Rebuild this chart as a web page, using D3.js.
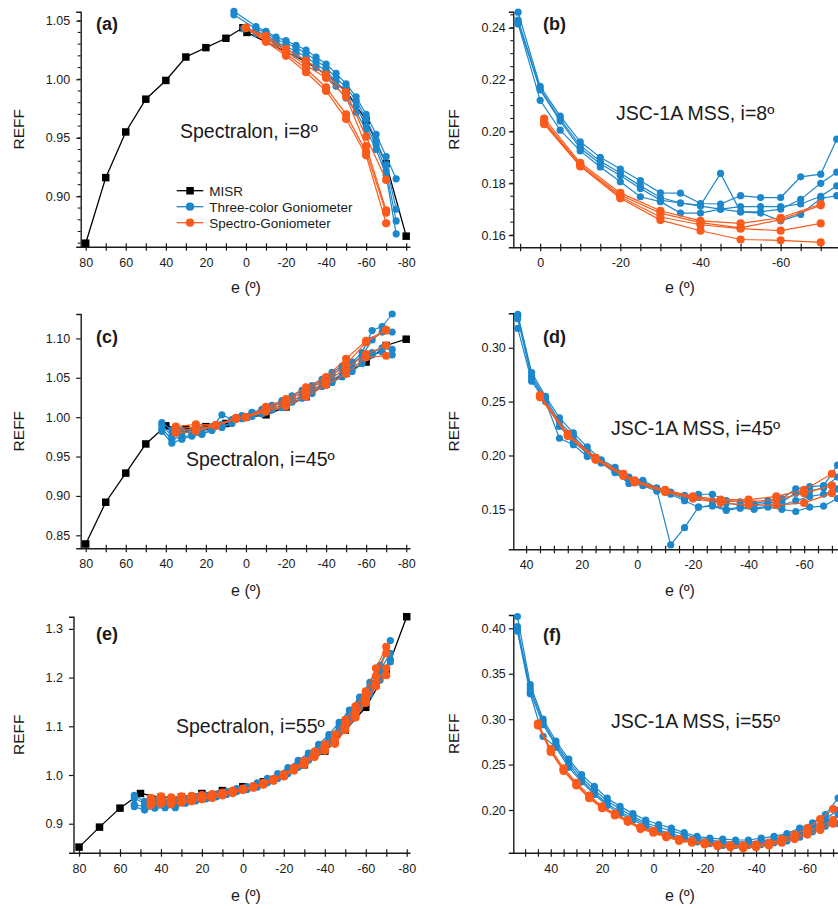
<!DOCTYPE html>
<html><head><meta charset="utf-8">
<script src="https://cdn.jsdelivr.net/npm/d3@7"></script>
<style>
body{margin:0;background:#fff;}
svg{display:block;font-family:"Liberation Sans",Arial,Helvetica,sans-serif;}
</style></head><body>
<svg id="chart" width="838" height="909"></svg>
<script>
// ---------- Panel (a): Spectralon, i=8º ----------
const eMisrA = [80, 70, 60, 50, 40, 30, 20, 10, 1.5, -0.5, -30, -40, -50, -60, -70, -80];
const misrA  = [0.860, 0.916, 0.955, 0.983, 0.999, 1.019, 1.027, 1.035, 1.044, 1.040, 1.015, 1.004, 0.990, 0.965, 0.928, 0.866];
const eBlueA = [6, 1, -5, -10, -15, -20, -25, -30, -35, -40, -45, -50, -55, -60, -65, -70, -75];
const blueA = [
  [1.058, null, 1.045, 1.041, 1.036, 1.033, 1.029, 1.025, 1.019, 1.013, 1.005, 0.996, 0.985, 0.970, 0.953, 0.934, 0.915],
  [1.055, null, 1.043, 1.040, 1.034, 1.031, 1.027, 1.022, 1.016, 1.010, 1.001, 0.993, 0.982, 0.966, 0.948, 0.927, 0.889],
  [null, 1.044, 1.041, 1.038, 1.032, 1.028, 1.024, 1.019, 1.013, 1.007, 0.998, 0.988, 0.977, 0.960, 0.944, 0.922, 0.879],
  [null, 1.043, 1.039, 1.036, 1.030, 1.026, 1.021, 1.016, 1.010, 1.003, 0.994, 0.984, 0.972, 0.957, 0.940, 0.918, 0.868]
];
const eOrangeA = [0, -10, -20, -30, -40, -50, -60, -70];
const orangeA = [
  [1.044, 1.037, 1.026, 1.016, 1.004, 0.989, 0.951, 0.914],
  [1.044, 1.035, 1.024, 1.012, 1.001, 0.985, 0.943, 0.888],
  [1.044, 1.033, 1.022, 1.009, 0.993, 0.970, 0.938, 0.886],
  [1.044, 1.032, 1.020, 1.006, 0.990, 0.966, 0.935, 0.877]
];

// ---------- Panel (b): JSC-1A MSS, i=8º ----------
const eBlueB = [5.5, 0, -5, -10, -15, -20, -25, -30, -35, -40, -45, -50, -55, -60, -65, -70, -74];
const blueB = [
  [0.2460, 0.2174, 0.2059, 0.1960, 0.1900, 0.1855, 0.1810, 0.1763, 0.1762, 0.1722, 0.1720, 0.1752, 0.1745, 0.1745, 0.1825, 0.1835, 0.1970],
  [0.2430, 0.2165, 0.2048, 0.1945, 0.1885, 0.1840, 0.1790, 0.1745, 0.1724, 0.1715, 0.1838, 0.1690, 0.1690, 0.1700, 0.1738, 0.1800, 0.1843],
  [0.2420, 0.2160, 0.2040, 0.1935, 0.1875, 0.1830, 0.1780, 0.1735, 0.1724, 0.1712, 0.1700, 0.1710, 0.1710, 0.1710, 0.1720, 0.1750, 0.1790],
  [0.2415, 0.2120, 0.2005, 0.1925, 0.1863, 0.1806, 0.1748, 0.1729, 0.1685, 0.1685, 0.1700, 0.1690, 0.1685, 0.1655, 0.1680, 0.1742, 0.1752]
];
const eOrangeB = [-1, -10, -20, -30, -40, -50, -60, -70];
const orangeB = [
  [0.2050, 0.1879, 0.1763, 0.1694, 0.1655, 0.1645, 0.1667, 0.1720],
  [0.2040, 0.1872, 0.1755, 0.1685, 0.1648, 0.1628, 0.1660, 0.1715],
  [0.2035, 0.1868, 0.1748, 0.1670, 0.1640, 0.1625, 0.1617, 0.1645],
  [0.2028, 0.1865, 0.1742, 0.1658, 0.1617, 0.1583, 0.1580, 0.1572]
];

// ---------- Panel (c): Spectralon, i=45º ----------
const eMisrC = [80, 70, 60, 50, 40, 30, 20, 10, 0, -10, -20, -30, -40, -50, -60, -70, -80];
const misrC  = [0.839, 0.892, 0.929, 0.966, 0.989, 0.985, 0.988, 0.992, 1.000, 1.003, 1.013, 1.026, 1.042, 1.056, 1.070, 1.091, 1.099];
const eBlueC = [42, 37, 32, 27, 22, 17, 12, 7, 2, -3, -8, -13, -18, -23, -28, -33, -38, -43, -48, -53, -58, -63, -68, -73];
const blueC = [
  [0.993, 0.984, 0.980, 0.981, 0.983, 0.987, 1.003, 0.997, 1.002, 1.006, 1.010, 1.015, 1.021, 1.027, 1.034, 1.040, 1.048, 1.057, 1.065, 1.070, 1.082, 1.110, 1.115, 1.131],
  [0.990, 0.976, 0.983, 0.983, 0.985, 0.988, 0.991, 0.996, 1.001, 1.005, 1.009, 1.013, 1.019, 1.025, 1.031, 1.038, 1.045, 1.054, 1.062, 1.068, 1.078, 1.098, 1.108, 1.108],
  [0.985, 0.972, 0.975, 0.977, 0.979, 0.984, 0.988, 0.993, 0.999, 1.002, 1.006, 1.011, 1.015, 1.021, 1.026, 1.033, 1.041, 1.047, 1.055, 1.062, 1.071, 1.082, 1.088, 1.086],
  [0.982, 0.967, 0.972, 0.976, 0.978, 0.983, 0.987, 0.992, 0.998, 1.001, 1.004, 1.009, 1.012, 1.019, 1.024, 1.030, 1.039, 1.044, 1.051, 1.058, 1.068, 1.079, 1.083, 1.079]
];
const eOrangeC = [35, 25, 15, 5, 0, -10, -20, -30, -40, -50, -60, -70];
const orangeC = [
  [0.988, 0.991, 0.990, 0.999, 1.000, 1.013, 1.023, 1.038, 1.051, 1.074, 1.097, 1.111],
  [0.985, 0.988, 0.990, 0.998, 1.000, 1.011, 1.020, 1.034, 1.048, 1.067, 1.095, 1.110],
  [0.983, 0.985, 0.989, 0.998, 1.000, 1.009, 1.017, 1.030, 1.045, 1.062, 1.080, 1.091],
  [0.980, 0.982, 0.989, 0.998, 1.000, 1.007, 1.014, 1.026, 1.041, 1.055, 1.076, 1.078]
];

// ---------- Panel (d): JSC-1A MSS, i=45º ----------
const eBlueD = [43, 38, 33, 28, 23, 18, 13, 8, 3, -2, -7, -12, -17, -22, -27, -32, -37, -42, -47, -52, -57, -62, -67, -72];
const blueD = [
  [0.331, 0.277, 0.255, 0.235, 0.221, 0.208, 0.196, 0.189, 0.180, 0.177, 0.170, 0.166, 0.163, 0.164, 0.164, 0.158, 0.157, 0.155, 0.158, 0.160, 0.169, 0.171, 0.172, 0.191],
  [0.330, 0.274, 0.253, 0.231, 0.218, 0.205, 0.194, 0.186, 0.178, 0.175, 0.169, 0.165, 0.160, 0.161, 0.158, 0.156, 0.154, 0.154, 0.156, 0.157, 0.165, 0.167, 0.170, 0.180],
  [0.327, 0.272, 0.251, 0.227, 0.213, 0.202, 0.194, 0.185, 0.177, 0.174, 0.168, 0.117, 0.133, 0.152, 0.154, 0.150, 0.152, 0.151, 0.153, 0.154, 0.158, 0.162, 0.164, 0.169],
  [0.318, 0.269, 0.250, 0.216, 0.210, 0.199, 0.193, 0.184, 0.174, 0.172, 0.167, 0.164, 0.158, 0.152, 0.153, 0.149, 0.151, 0.150, 0.152, 0.150, 0.148, 0.152, 0.153, 0.160]
];
const eOrangeD = [35, 25, 15, 5, 1, -10, -20, -30, -40, -50, -60, -70];
const orangeD = [
  [0.256, 0.220, 0.198, 0.183, 0.177, 0.168, 0.162, 0.159, 0.159, 0.162, 0.168, 0.183],
  [0.255, 0.219, 0.197, 0.182, 0.176, 0.167, 0.161, 0.158, 0.157, 0.159, 0.165, 0.172],
  [0.254, 0.218, 0.196, 0.181, 0.175, 0.166, 0.160, 0.156, 0.154, 0.154, 0.156, 0.165]
];

// ---------- Panel (e): Spectralon, i=55º ----------
const eMisrE = [80, 70, 60, 50, 40, 30, 20, 10, 0, -10, -20, -30, -40, -50, -60, -70, -80];
const misrE  = [0.852, 0.893, 0.932, 0.962, 0.954, 0.955, 0.962, 0.968, 0.976, 0.986, 1.000, 1.021, 1.049, 1.092, 1.139, 1.212, 1.325];
const eBlueE = [53, 48, 43, 38, 33, 28, 23, 18, 13, 8, 3, -2, -7, -12, -17, -22, -27, -32, -37, -42, -47, -52, -57, -62, -67, -72];
const blueE = [
  [0.958, 0.946, 0.947, 0.945, 0.947, 0.951, 0.955, 0.958, 0.961, 0.966, 0.972, 0.976, 0.984, 0.993, 1.003, 1.015, 1.030, 1.045, 1.063, 1.083, 1.108, 1.133, 1.160, 1.190, 1.225, 1.276],
  [0.953, 0.941, 0.944, 0.941, 0.944, 0.948, 0.952, 0.956, 0.960, 0.964, 0.970, 0.974, 0.980, 0.989, 0.999, 1.010, 1.024, 1.039, 1.057, 1.077, 1.100, 1.125, 1.152, 1.181, 1.215, 1.250],
  [0.940, 0.934, 0.936, 0.937, 0.938, 0.944, 0.949, 0.953, 0.957, 0.962, 0.968, 0.972, 0.978, 0.987, 0.996, 1.007, 1.020, 1.035, 1.052, 1.071, 1.094, 1.118, 1.145, 1.174, 1.205, 1.237],
  [0.935, 0.928, 0.932, 0.933, 0.933, 0.942, 0.947, 0.951, 0.955, 0.960, 0.966, 0.970, 0.975, 0.984, 0.993, 1.003, 1.016, 1.030, 1.047, 1.066, 1.088, 1.110, 1.138, 1.165, 1.195, 1.232]
];
const eOrangeE = [45, 40, 35, 30, 25, 20, 15, 10, 5, 0, -5, -10, -15, -20, -25, -30, -35, -40, -45, -50, -55, -60, -65, -70];
const orangeE = [
  [0.953, 0.956, 0.954, 0.956, 0.957, 0.959, 0.961, 0.964, 0.968, 0.972, 0.977, 0.984, 0.992, 1.002, 1.015, 1.029, 1.048, 1.063, 1.083, 1.113, 1.141, 1.172, 1.219, 1.263],
  [0.947, 0.950, 0.948, 0.951, 0.953, 0.956, 0.958, 0.962, 0.966, 0.971, 0.976, 0.983, 0.991, 1.000, 1.013, 1.026, 1.043, 1.058, 1.076, 1.105, 1.132, 1.163, 1.203, 1.250],
  [0.942, 0.945, 0.944, 0.946, 0.949, 0.952, 0.955, 0.959, 0.964, 0.970, 0.975, 0.981, 0.989, 0.998, 1.011, 1.023, 1.040, 1.053, 1.068, 1.098, 1.123, 1.154, 1.188, 1.219],
  [0.938, 0.941, 0.940, 0.943, 0.946, 0.950, 0.953, 0.958, 0.963, 0.969, 0.974, 0.980, 0.988, 0.997, 1.009, 1.021, 1.037, 1.050, 1.064, 1.092, 1.118, 1.148, 1.182, 1.205]
];

// ---------- Panel (f): JSC-1A MSS, i=55º ----------
const eBlueF = [53, 48, 43, 38, 33, 28, 23, 18, 13, 8, 3, -2, -7, -12, -17, -22, -27, -32, -37, -42, -47, -52, -57, -62, -67, -72];
const blueF = [
  [0.413, 0.338, 0.300, 0.276, 0.256, 0.239, 0.226, 0.213, 0.204, 0.196, 0.189, 0.184, 0.180, 0.175, 0.171, 0.169, 0.168, 0.167, 0.167, 0.169, 0.171, 0.174, 0.180, 0.186, 0.195, 0.213],
  [0.402, 0.334, 0.297, 0.273, 0.253, 0.236, 0.222, 0.210, 0.201, 0.193, 0.186, 0.181, 0.177, 0.173, 0.169, 0.167, 0.165, 0.165, 0.165, 0.166, 0.168, 0.171, 0.176, 0.182, 0.190, 0.200],
  [0.399, 0.330, 0.294, 0.271, 0.250, 0.233, 0.219, 0.207, 0.198, 0.191, 0.184, 0.178, 0.174, 0.170, 0.167, 0.165, 0.163, 0.163, 0.163, 0.164, 0.166, 0.169, 0.173, 0.179, 0.186, 0.195],
  [0.397, 0.328, 0.281, 0.269, 0.247, 0.231, 0.217, 0.205, 0.196, 0.189, 0.182, 0.176, 0.172, 0.168, 0.165, 0.163, 0.161, 0.161, 0.161, 0.162, 0.164, 0.166, 0.170, 0.176, 0.182, 0.185]
];
const eOrangeF = [45, 40, 35, 30, 25, 20, 15, 10, 5, 0, -5, -10, -15, -20, -25, -30, -35, -40, -45, -50, -55, -60, -65, -70];
const orangeF = [
  [0.295, 0.267, 0.246, 0.230, 0.216, 0.204, 0.196, 0.189, 0.181, 0.177, 0.172, 0.168, 0.166, 0.164, 0.162, 0.161, 0.161, 0.162, 0.164, 0.168, 0.173, 0.180, 0.190, 0.201],
  [0.294, 0.265, 0.244, 0.228, 0.214, 0.203, 0.195, 0.188, 0.180, 0.176, 0.171, 0.167, 0.165, 0.163, 0.161, 0.160, 0.159, 0.160, 0.162, 0.166, 0.170, 0.176, 0.182, 0.189],
  [0.293, 0.264, 0.243, 0.227, 0.213, 0.202, 0.194, 0.187, 0.179, 0.175, 0.170, 0.166, 0.164, 0.162, 0.160, 0.159, 0.158, 0.159, 0.161, 0.164, 0.168, 0.173, 0.178, 0.185]
];

// ---------- Tick labels ----------
const xLabelsWide   = [80, 60, 40, 20, 0, -20, -40, -60, -80];
const xLabelsNarrow = [40, 20, 0, -20, -40, -60];
const xLabelsB      = [0, -20, -40, -60];
const yTicksA = [0.90, 0.95, 1.00, 1.05];
const yTicksB = [0.16, 0.18, 0.20, 0.22, 0.24];
const yTicksC = [0.85, 0.90, 0.95, 1.00, 1.05, 1.10];
const yTicksD = [0.15, 0.20, 0.25, 0.30];
const yTicksE = [0.9, 1.0, 1.1, 1.2, 1.3];
const yTicksF = [0.20, 0.25, 0.30, 0.35, 0.40];

// Series names for the legend
const seriesNames = ["MISR", "Three-color Goniometer", "Spectro-Goniometer"];
const titles = {
  a: "Spectralon, i=8º", b: "JSC-1A MSS, i=8º",
  c: "Spectralon, i=45º", d: "JSC-1A MSS, i=45º",
  e: "Spectralon, i=55º", f: "JSC-1A MSS, i=55º"
};

const BLUE = "#1b87cc", ORANGE = "#fb5a1b", INK = "#1a1a1a";
const svg = d3.select("#chart");

const panels = [
  { key: "a", xDomain: [82.5, -81.9], xRange: [80.7, 410], yDomain: [0.857, 1.0577], yRange: [246.7, 11.7],
    xStep: 10, xLabels: xLabelsWide, yTicks: yTicksA, yMinorStep: 0.01, yFmt: ".2f", yPad: 6,
    misr: [eMisrA, misrA], blue: [eBlueA, blueA], orange: [eOrangeA, orangeA],
    label: [96, 30], title: [180, 138], reffX: 24, eX: 246, eY: 293, legend: true },
  { key: "b", xDomain: [6.7, -77.3], xRange: [513.3, 850], yDomain: [0.1553, 0.2462], yRange: [247.3, 11.7],
    xStep: 5, xLabels: xLabelsB, yTicks: yTicksB, yMinorStep: 0.005, yFmt: ".2f", yPad: 3,
    misr: null, blue: [eBlueB, blueB], orange: [eOrangeB, orangeB],
    label: [543, 30], title: [616, 120], reffX: 459, eX: 680, eY: 293 },
  { key: "c", xDomain: [82.5, -81.9], xRange: [80.7, 410], yDomain: [0.8335, 1.131], yRange: [548.3, 314],
    xStep: 10, xLabels: xLabelsWide, yTicks: yTicksC, yMinorStep: null, yFmt: ".2f", yPad: 6,
    misr: [eMisrC, misrC], blue: [eBlueC, blueC], orange: [eOrangeC, orangeC],
    label: [96, 343], title: [186, 466], reffX: 24, eX: 246, eY: 596 },
  { key: "d", xDomain: [44.6, -76.5], xRange: [513.3, 850], yDomain: [0.1129, 0.332], yRange: [549.3, 313.3],
    xStep: 5, xLabels: xLabelsNarrow, yTicks: yTicksD, yMinorStep: null, yFmt: ".2f", yPad: 3,
    misr: null, blue: [eBlueD, blueD], orange: [eOrangeD, orangeD],
    label: [543, 343], title: [611, 435], reffX: 459, eX: 680, eY: 596 },
  { key: "e", xDomain: [82.7, -81.6], xRange: [73.5, 410], yDomain: [0.8405, 1.325], yRange: [852.7, 616.7],
    xStep: 10, xLabels: xLabelsWide, yTicks: yTicksE, yMinorStep: null, yFmt: ".1f", yPad: 6,
    misr: [eMisrE, misrE], blue: [eBlueE, blueE], orange: [eOrangeE, orangeE],
    label: [96, 640], title: [176, 733], reffX: 24, eX: 246, eY: 901 },
  { key: "f", xDomain: [54.6, -76.6], xRange: [513.3, 850], yDomain: [0.153, 0.4147], yRange: [852.7, 615],
    xStep: 5, xLabels: xLabelsNarrow, yTicks: yTicksF, yMinorStep: null, yFmt: ".2f", yPad: 3,
    misr: null, blue: [eBlueF, blueF], orange: [eOrangeF, orangeF],
    label: [543, 641], title: [611, 728], reffX: 459, eX: 680, eY: 901 }
];

function pairs(es, vs) {
  return es.map((e, i) => ({ e, v: vs[i] })).filter(d => d.v != null);
}

function drawSeries(g, x, y, es, vs, color, kind) {
  const pts = pairs(es, vs);
  const line = d3.line().x(d => x(d.e)).y(d => y(d.v));
  g.append("path").datum(pts).attr("d", line)
    .attr("fill", "none").attr("stroke", color)
    .attr("stroke-width", kind === "square" ? 1.3 : 1.2);
  if (kind === "square") {
    g.selectAll(null).data(pts).join("path")
      .attr("transform", d => `translate(${x(d.e)},${y(d.v)})`)
      .attr("d", d3.symbol(d3.symbolSquare, 56)).attr("fill", color);
  } else {
    g.selectAll(null).data(pts).join("circle")
      .attr("cx", d => x(d.e)).attr("cy", d => y(d.v))
      .attr("r", kind === "big" ? 4.1 : 3.6).attr("fill", color);
  }
}

panels.forEach(p => {
  const x = d3.scaleLinear().domain(p.xDomain).range(p.xRange);
  const y = d3.scaleLinear().domain(p.yDomain).range(p.yRange);
  const g = svg.append("g");
  const y0 = p.yRange[0];

  // x axis: ticks cross the axis line, labels every 20º
  const xTicks = [];
  for (let v = 80; v >= -80; v -= p.xStep) {
    if (v <= p.xDomain[0] && v >= p.xDomain[1]) xTicks.push(v);
  }
  const xa = g.append("g").attr("transform", `translate(0,${y0})`)
    .call(d3.axisBottom(x).tickValues(xTicks).tickSizeOuter(0)
      .tickFormat(v => p.xLabels.includes(v) ? String(v) : ""));
  xa.select(".domain").attr("stroke", INK).attr("stroke-width", 1.4);
  xa.selectAll(".tick line").attr("y1", -3.5).attr("y2", 4).attr("stroke", INK).attr("stroke-width", 1.2);
  xa.selectAll(".tick text").attr("y", 20).attr("dy", null)
    .attr("font-size", 12.5).attr("fill", INK).attr("font-family", null);

  // y axis: major ticks with labels, optional minor ticks
  const ya = g.append("g").attr("transform", `translate(${p.xRange[0]},0)`)
    .call(d3.axisLeft(y).tickValues(p.yTicks).tickSizeOuter(0).tickSize(4.5)
      .tickPadding(p.yPad).tickFormat(d3.format(p.yFmt)));
  ya.select(".domain").attr("stroke", INK).attr("stroke-width", 1.4);
  ya.selectAll(".tick line").attr("stroke", INK).attr("stroke-width", 1.2);
  ya.selectAll(".tick text").attr("font-size", 12.5).attr("fill", INK).attr("font-family", null);
  if (p.yMinorStep) {
    const vals = [];
    for (let k = Math.ceil(p.yDomain[0] / p.yMinorStep - 1e-6); k * p.yMinorStep <= p.yDomain[1]; k++) {
      vals.push(k * p.yMinorStep);
    }
    g.append("g").selectAll("line").data(vals).join("line")
      .attr("x1", p.xRange[0] - 3).attr("x2", p.xRange[0])
      .attr("y1", d => y(d)).attr("y2", d => y(d))
      .attr("stroke", INK).attr("stroke-width", 1.1);
  }

  // axis titles
  g.append("text").attr("transform", `translate(${p.reffX},${(p.yRange[0] + p.yRange[1]) / 2}) rotate(-90)`)
    .attr("text-anchor", "middle").attr("font-size", 15.5).attr("fill", INK).text("REFF");
  g.append("text").attr("x", p.eX).attr("y", p.eY).attr("text-anchor", "middle")
    .attr("font-size", 16).attr("fill", INK).text("e (º)");

  // panel letter and sample caption
  g.append("text").attr("x", p.label[0]).attr("y", p.label[1])
    .attr("font-size", 18).attr("font-weight", "bold").attr("fill", INK).text(`(${p.key})`);
  g.append("text").attr("x", p.title[0]).attr("y", p.title[1])
    .attr("font-size", 19.5).attr("fill", INK).text(titles[p.key]);

  // data: MISR, then three-color goniometer, then spectro-goniometer
  const dg = g.append("g");
  if (p.misr) drawSeries(dg, x, y, p.misr[0], p.misr[1], "#000", "square");
  p.blue[1].forEach(vs => drawSeries(dg, x, y, p.blue[0], vs, BLUE, "small"));
  p.orange[1].forEach(vs => drawSeries(dg, x, y, p.orange[0], vs, ORANGE, "big"));

  if (p.legend) {
    const lg = g.append("g");
    const rows = [["#000", "square"], [BLUE, "small"], [ORANGE, "big"]];
    rows.forEach((r, i) => {
      const ry = 190.7 + i * 16;
      lg.append("line").attr("x1", 176.7).attr("x2", 203.3).attr("y1", ry).attr("y2", ry)
        .attr("stroke", r[0]).attr("stroke-width", 1.3);
      if (r[1] === "square") {
        lg.append("rect").attr("x", 186.3).attr("y", ry - 3.7).attr("width", 7.5).attr("height", 7.5).attr("fill", r[0]);
      } else {
        lg.append("circle").attr("cx", 190).attr("cy", ry).attr("r", 4.1).attr("fill", r[0]);
      }
      lg.append("text").attr("x", 209.3).attr("y", ry).attr("dy", "0.36em")
        .attr("font-size", 13.5).attr("fill", INK).text(seriesNames[i]);
    });
  }
});
</script>
</body></html>
